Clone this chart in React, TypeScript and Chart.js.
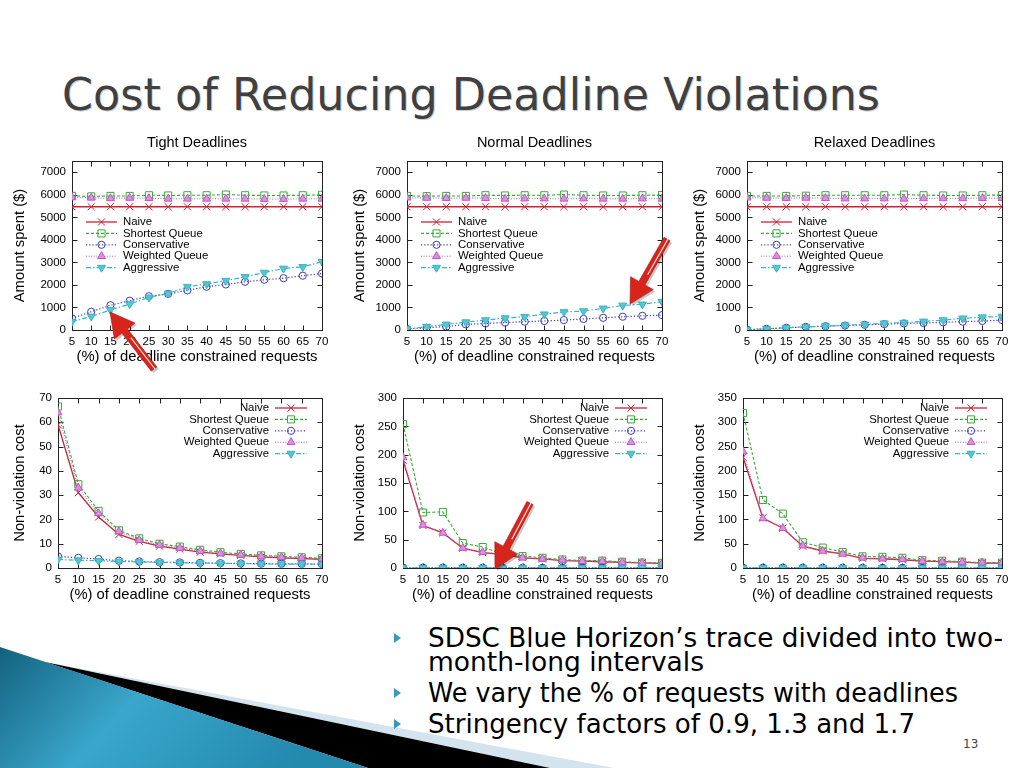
import React, { useEffect, useRef } from 'react';
import { Chart, registerables } from 'chart.js';
import { drawPoint } from 'chart.js/helpers';

Chart.register(...registerables);
Chart.defaults.font.family = '"Liberation Sans", Arial, sans-serif';
Chart.defaults.color = '#000';

// ---------------- data ----------------
const percentLabels = [5, 10, 15, 20, 25, 30, 35, 40, 45, 50, 55, 60, 65, 70];
const seriesNames = ['Naive', 'Shortest Queue', 'Conservative', 'Weighted Queue', 'Aggressive'];
const panelTitles = ['Tight Deadlines', 'Normal Deadlines', 'Relaxed Deadlines'];
const spentTicks = [0, 1000, 2000, 3000, 4000, 5000, 6000, 7000];
const tightCostTicks = [0, 10, 20, 30, 40, 50, 60, 70];
const normalCostTicks = [0, 50, 100, 150, 200, 250, 300];
const relaxedCostTicks = [0, 50, 100, 150, 200, 250, 300, 350];

// Amount spent ($) - Tight
const tightSpentNaive = [5470, 5470, 5470, 5470, 5470, 5470, 5470, 5470, 5470, 5470, 5470, 5470, 5470, 5470];
const tightSpentShortest = [5950, 5930, 5950, 5950, 5980, 5970, 5980, 5980, 6010, 5980, 5970, 5970, 5980, 6000];
const tightSpentConservative = [520, 810, 1100, 1300, 1500, 1600, 1760, 1920, 2020, 2140, 2230, 2300, 2410, 2510];
const tightSpentWeighted = [5880, 5870, 5840, 5860, 5850, 5820, 5820, 5820, 5820, 5820, 5810, 5810, 5820, 5820];
const tightSpentAggressive = [370, 600, 890, 1150, 1450, 1620, 1920, 2040, 2190, 2360, 2550, 2730, 2800, 3030];

// Amount spent ($) - Normal
const normalSpentNaive = [5470, 5470, 5470, 5470, 5470, 5470, 5470, 5470, 5470, 5470, 5470, 5470, 5470, 5470];
const normalSpentShortest = [5950, 5940, 5950, 5950, 5980, 5970, 5980, 5980, 6010, 5980, 5970, 5970, 5980, 5990];
const normalSpentConservative = [50, 100, 150, 250, 290, 330, 370, 400, 440, 490, 540, 590, 630, 660];
const normalSpentWeighted = [5870, 5860, 5850, 5860, 5850, 5820, 5830, 5830, 5820, 5830, 5820, 5820, 5830, 5820];
const normalSpentAggressive = [40, 150, 250, 350, 440, 530, 590, 700, 800, 840, 960, 1090, 1140, 1260];

// Amount spent ($) - Relaxed
const relaxedSpentNaive = [5470, 5470, 5470, 5470, 5470, 5470, 5470, 5470, 5470, 5470, 5470, 5470, 5470, 5470];
const relaxedSpentShortest = [5950, 5950, 5950, 5960, 5980, 5980, 5980, 5980, 6010, 5980, 5970, 5970, 5980, 5990];
const relaxedSpentConservative = [20, 50, 100, 140, 170, 200, 230, 260, 290, 310, 340, 370, 400, 440];
const relaxedSpentWeighted = [5870, 5860, 5850, 5860, 5850, 5830, 5830, 5830, 5820, 5840, 5840, 5840, 5850, 5850];
const relaxedSpentAggressive = [20, 50, 100, 140, 170, 210, 250, 300, 330, 380, 440, 520, 570, 600];

// Non-violation cost - Tight
const tightCostNaive = [59, 31, 21, 13.8, 11, 9, 7.8, 6.5, 5.8, 5.2, 4.6, 4.2, 3.9, 3.6];
const tightCostShortest = [66.5, 34.5, 23.5, 15.5, 12.2, 10, 8.8, 7.5, 6.5, 5.8, 5.2, 4.8, 4.4, 4.0];
const tightCostConservative = [4.8, 4.2, 3.7, 3.0, 2.7, 2.4, 2.3, 2.1, 2.0, 1.9, 1.8, 1.7, 1.7, 1.6];
const tightCostWeighted = [64, 33, 22.5, 15, 11.5, 9.5, 8.2, 7, 6, 5.4, 4.8, 4.4, 4.1, 3.8];
const tightCostAggressive = [3.5, 3.2, 3.0, 2.7, 2.5, 2.3, 2.2, 2.0, 1.9, 1.8, 1.7, 1.6, 1.6, 1.5];

// Non-violation cost - Normal
const normalCostNaive = [190, 75, 62, 35, 27, 24, 18, 16, 13, 12, 11, 10, 9, 8];
const normalCostShortest = [254, 98, 99, 44, 37, 24, 21, 18, 15, 13, 13, 11, 9.5, 9];
const normalCostConservative = [0.8, 0.7, 0.7, 0.6, 0.6, 0.6, 0.5, 0.5, 0.5, 0.5, 0.5, 0.5, 0.5, 0.5];
const normalCostWeighted = [195, 76, 62, 35, 28, 24, 18, 16, 14, 12, 12, 10, 9, 8];
const normalCostAggressive = [0.4, 0.4, 0.4, 0.3, 0.3, 0.3, 0.3, 0.3, 0.3, 0.3, 0.3, 0.3, 0.3, 0.3];

// Non-violation cost - Relaxed
const relaxedCostNaive = [228, 103, 82, 45, 35, 29, 20, 19, 17, 14, 13, 12, 10, 10];
const relaxedCostShortest = [319, 140, 112, 53, 42, 33, 24, 23, 21, 16, 15, 13, 11, 11];
const relaxedCostConservative = [0.8, 0.7, 0.7, 0.6, 0.6, 0.6, 0.5, 0.5, 0.5, 0.5, 0.5, 0.5, 0.5, 0.5];
const relaxedCostWeighted = [240, 102, 82, 46, 35, 29, 21, 19, 18, 14, 13, 12, 11, 11];
const relaxedCostAggressive = [0.4, 0.4, 0.4, 0.3, 0.3, 0.3, 0.3, 0.3, 0.3, 0.3, 0.3, 0.3, 0.3, 0.3];

// ---------------- styles ----------------
const seriesStyles = [
  { color: '#cc2233', dash: [] as number[], pointStyle: 'crossRot', radius: 5, fill: 'rgba(0,0,0,0)', rotation: 0, width: 1.3 },
  { color: '#3aa83a', dash: [3, 2], pointStyle: 'rect', radius: 5, fill: 'rgba(255,255,255,0)', rotation: 0, width: 1.1 },
  { color: '#3c3cb6', dash: [1.2, 2], pointStyle: 'circle', radius: 3.6, fill: 'rgba(255,255,255,0)', rotation: 0, width: 1.2 },
  { color: '#c455c8', dash: [1, 1.6], pointStyle: 'triangle', radius: 4.6, fill: '#d990e0', rotation: 0, width: 1.0 },
  { color: '#38b4c4', dash: [5, 2, 1.5, 2], pointStyle: 'triangle', radius: 4.6, fill: '#55c6d2', rotation: 180, width: 1.2 },
];

const xTitle = '(%) of deadline constrained requests';
const TICK_FONT = 11.5;
const AXIS_TITLE_FONT = 14.8;

type Box = { left: number; top: number; width: number; height: number };
type Plot = { left: number; top: number; right: number; bottom: number };

const topCanvas = (left: number, width: number): Box => ({ left, top: 130, width, height: 240 });
const botCanvas = (left: number, width: number): Box => ({ left, top: 385, width, height: 225 });

const panels = [
  { series: [tightSpentNaive, tightSpentShortest, tightSpentConservative, tightSpentWeighted, tightSpentAggressive], yTicks: spentTicks, yMax: 7500, yTitle: 'Amount spent ($)', title: panelTitles[0], legend: 'left', canvas: topCanvas(0, 340), plot: { left: 72, top: 161, right: 322, bottom: 330 }, xTitleY: 357 },
  { series: [normalSpentNaive, normalSpentShortest, normalSpentConservative, normalSpentWeighted, normalSpentAggressive], yTicks: spentTicks, yMax: 7500, yTitle: 'Amount spent ($)', title: panelTitles[1], legend: 'left', canvas: topCanvas(340, 340), plot: { left: 407, top: 161, right: 662, bottom: 330 }, xTitleY: 357 },
  { series: [relaxedSpentNaive, relaxedSpentShortest, relaxedSpentConservative, relaxedSpentWeighted, relaxedSpentAggressive], yTicks: spentTicks, yMax: 7500, yTitle: 'Amount spent ($)', title: panelTitles[2], legend: 'left', canvas: topCanvas(680, 344), plot: { left: 747, top: 161, right: 1002, bottom: 330 }, xTitleY: 357 },
  { series: [tightCostNaive, tightCostShortest, tightCostConservative, tightCostWeighted, tightCostAggressive], yTicks: tightCostTicks, yMax: 70, yTitle: 'Non-violation cost', title: '', legend: 'right', canvas: botCanvas(0, 340), plot: { left: 58, top: 398, right: 322, bottom: 568 }, xTitleY: 595 },
  { series: [normalCostNaive, normalCostShortest, normalCostConservative, normalCostWeighted, normalCostAggressive], yTicks: normalCostTicks, yMax: 300, yTitle: 'Non-violation cost', title: '', legend: 'right', canvas: botCanvas(340, 340), plot: { left: 403, top: 398, right: 662, bottom: 568 }, xTitleY: 595 },
  { series: [relaxedCostNaive, relaxedCostShortest, relaxedCostConservative, relaxedCostWeighted, relaxedCostAggressive], yTicks: relaxedCostTicks, yMax: 350, yTitle: 'Non-violation cost', title: '', legend: 'right', canvas: botCanvas(680, 344), plot: { left: 743, top: 398, right: 1002, bottom: 568 }, xTitleY: 595 },
];

// ---------------- plugins ----------------
const framePlugin = {
  id: 'gnuFrame',
  beforeDatasetsDraw(chart: any) {
    const { ctx, chartArea: a, scales } = chart;
    ctx.save();
    ctx.strokeStyle = '#222';
    ctx.lineWidth = 1;
    const l = Math.round(a.left) + 0.5, t = Math.round(a.top) + 0.5;
    const r = Math.round(a.right) + 0.5, b = Math.round(a.bottom) + 0.5;
    ctx.strokeRect(l, t, r - l, b - t);
    const tl = 5;
    ctx.beginPath();
    scales.x.ticks.forEach((tk: any) => {
      const px = Math.round(scales.x.getPixelForValue(tk.value)) + 0.5;
      ctx.moveTo(px, b); ctx.lineTo(px, b - tl);
      ctx.moveTo(px, t); ctx.lineTo(px, t + tl);
    });
    scales.y.ticks.forEach((tk: any) => {
      const py = Math.round(scales.y.getPixelForValue(tk.value)) + 0.5;
      ctx.moveTo(l, py); ctx.lineTo(l + tl, py);
      ctx.moveTo(r, py); ctx.lineTo(r - tl, py);
    });
    ctx.stroke();
    ctx.restore();
  },
};

const legendPlugin = {
  id: 'gnuLegend',
  afterDatasetsDraw(chart: any, _args: any, opts: any) {
    const { ctx, chartArea: a } = chart;
    const left = opts.side === 'left';
    ctx.save();
    ctx.font = '11.4px "Liberation Sans", Arial, sans-serif';
    ctx.textBaseline = 'middle';
    chart.data.datasets.forEach((ds: any, i: number) => {
      const y = a.top + (left ? 61 : 10) + i * 11.4;
      const x0 = left ? a.left + 14 : a.right - 47;
      const x1 = left ? a.left + 45 : a.right - 15;
      const tx = left ? a.left + 51 : a.right - 53;
      ctx.strokeStyle = ds.borderColor;
      ctx.lineWidth = ds.borderWidth;
      ctx.setLineDash(ds.borderDash);
      ctx.beginPath();
      ctx.moveTo(x0, y); ctx.lineTo(x1, y);
      ctx.stroke();
      ctx.setLineDash([]);
      ctx.fillStyle = ds.pointBackgroundColor;
      ctx.strokeStyle = ds.pointBorderColor;
      ctx.lineWidth = 1;
      drawPoint(ctx, { pointStyle: ds.pointStyle, radius: ds.pointRadius, rotation: ds.pointRotation || 0, borderWidth: 1 } as any, (x0 + x1) / 2, y);
      ctx.fillStyle = '#000';
      ctx.textAlign = left ? 'left' : 'right';
      ctx.fillText(ds.label, tx, y);
    });
    ctx.restore();
  },
};

const titlePlugin = {
  id: 'gnuTitle',
  afterDraw(chart: any, _args: any, opts: any) {
    if (!opts.text) return;
    const { ctx, chartArea: a } = chart;
    ctx.save();
    ctx.font = '14.5px "Liberation Sans", Arial, sans-serif';
    ctx.fillStyle = '#000';
    ctx.textAlign = 'center';
    ctx.textBaseline = 'middle';
    ctx.fillText(opts.text, (a.left + a.right) / 2, a.top - 18);
    ctx.restore();
  },
};

function Panel({ spec }: { spec: (typeof panels)[number] }) {
  const ref = useRef<HTMLCanvasElement>(null);
  useEffect(() => {
    const c: Box = spec.canvas;
    const p: Plot = spec.plot;
    const yW = p.left - c.left;
    const xH = c.top + c.height - p.bottom;
    const halfLine = (AXIS_TITLE_FONT * 1.2) / 2;
    const xTitlePadBottom = c.top + c.height - spec.xTitleY - halfLine;
    const chart = new Chart(ref.current as HTMLCanvasElement, {
      type: 'line',
      data: {
        datasets: spec.series.map((vals, i) => {
          const st = seriesStyles[i];
          return {
            label: seriesNames[i],
            data: vals.map((v, j) => ({ x: percentLabels[j], y: v })),
            borderColor: st.color,
            borderWidth: st.width,
            borderDash: st.dash,
            pointStyle: st.pointStyle as any,
            pointRadius: st.radius,
            pointRotation: st.rotation,
            pointBackgroundColor: st.fill,
            pointBorderColor: st.color,
            pointBorderWidth: 1,
            fill: false,
            tension: 0,
            order: 5 - i,
          };
        }),
      },
      options: {
        animation: false,
        responsive: false,
        devicePixelRatio: 1,
        events: [],
        layout: { padding: { left: 0, top: p.top - c.top, right: c.left + c.width - p.right, bottom: 0 } },
        plugins: {
          legend: { display: false },
          tooltip: { enabled: false },
          gnuLegend: { side: spec.legend },
          gnuTitle: { text: spec.title },
        } as any,
        scales: {
          x: {
            type: 'linear',
            min: 5,
            max: 70,
            afterBuildTicks: (s: any) => { s.ticks = percentLabels.map((v) => ({ value: v })); },
            afterFit: (s: any) => { s.height = xH; },
            grid: { display: false, drawTicks: false },
            border: { display: false },
            ticks: { autoSkip: false, maxRotation: 0, padding: 5, color: '#000', font: { size: TICK_FONT }, callback: (v: any) => String(v) },
            title: { display: true, text: xTitle, color: '#000', font: { size: AXIS_TITLE_FONT }, padding: { top: 0, bottom: xTitlePadBottom } },
          },
          y: {
            type: 'linear',
            min: 0,
            max: spec.yMax,
            afterBuildTicks: (s: any) => { s.ticks = spec.yTicks.map((v) => ({ value: v })); },
            afterFit: (s: any) => { s.width = yW; },
            grid: { display: false, drawTicks: false },
            border: { display: false },
            ticks: { padding: 6, color: '#000', font: { size: TICK_FONT }, callback: (v: any) => String(v) },
            title: { display: true, text: spec.yTitle, color: '#000', font: { size: AXIS_TITLE_FONT }, padding: { top: 20 - halfLine, bottom: 0 } },
          },
        },
      },
      plugins: [framePlugin, legendPlugin, titlePlugin],
    } as any);
    return () => chart.destroy();
  }, [spec]);
  const c = spec.canvas;
  return (
    <canvas
      ref={ref}
      width={c.width}
      height={c.height}
      style={{ position: 'absolute', left: c.left, top: c.top, width: c.width, height: c.height }}
    />
  );
}

// ---------------- slide decoration ----------------
const bulletLines = [
  { text: 'SDSC Blue Horizon\u2019s trace divided into two-', y: 647, len: 575, bullet: true },
  { text: 'month-long intervals', y: 671, len: 276, bullet: false },
  { text: 'We vary the % of requests with deadlines', y: 702, len: 530, bullet: true },
  { text: 'Stringency factors of 0.9, 1.3 and 1.7', y: 733, len: 487, bullet: true },
];

const arrowSpecs = [
  { tail: [154, 369], tip: [110, 312] },
  { tail: [667, 239], tip: [630, 304] },
  { tail: [530, 503], tip: [495, 569] },
];

function arrowPoints(tail: number[], tip: number[], sw: number, hw: number, hl: number) {
  const dx = tip[0] - tail[0], dy = tip[1] - tail[1];
  const len = Math.hypot(dx, dy);
  const ux = dx / len, uy = dy / len;
  const nx = -uy, ny = ux;
  const bx = tip[0] - ux * hl, by = tip[1] - uy * hl;
  const pts = [
    [tail[0] + nx * sw / 2, tail[1] + ny * sw / 2],
    [bx + nx * sw / 2, by + ny * sw / 2],
    [bx + nx * hw / 2, by + ny * hw / 2],
    [tip[0], tip[1]],
    [bx - nx * hw / 2, by - ny * hw / 2],
    [bx - nx * sw / 2, by - ny * sw / 2],
    [tail[0] - nx * sw / 2, tail[1] - ny * sw / 2],
  ];
  return pts.map((q) => q.map((v) => v.toFixed(1)).join(',')).join(' ');
}

export default function App() {
  return (
    <div style={{ position: 'fixed', left: 0, top: 0, width: 1024, height: 768, background: '#fff', overflow: 'hidden' }}>
      <svg width={1024} height={768} style={{ position: 'absolute', left: 0, top: 0 }}>
        <defs>
          <linearGradient id="teal" x1="0" y1="0" x2="1" y2="0.3">
            <stop offset="0" stopColor="#13627e" />
            <stop offset="0.45" stopColor="#3aa6cc" />
            <stop offset="1" stopColor="#2389ad" />
          </linearGradient>
        </defs>
        <polygon points="45,662 614,768 550,768" fill="#d3e4ee" />
        <polygon points="45,662 550,768 368,768" fill="#000" />
        <polygon points="0,647 368,768 0,768" fill="url(#teal)" />
        <text x={63} y={111} fontFamily='"DejaVu Sans", sans-serif' fontSize={45} fill="#cfcfcf" textLength={818} lengthAdjust="spacingAndGlyphs">
          Cost of Reducing Deadline Violations
        </text>
        <text x={62} y={110} fontFamily='"DejaVu Sans", sans-serif' fontSize={45} fill="#404040" textLength={818} lengthAdjust="spacingAndGlyphs">
          Cost of Reducing Deadline Violations
        </text>
        {bulletLines.map((b, i) => (
          <g key={i}>
            {b.bullet && <polygon points={`394,${b.y - 14} 401,${b.y - 9} 394,${b.y - 4}`} fill="#3a98bf" />}
            <text x={428} y={b.y} fontFamily='"DejaVu Sans", sans-serif' fontSize={26} fill="#000" textLength={b.len} lengthAdjust="spacingAndGlyphs">
              {b.text}
            </text>
          </g>
        ))}
        <text x={963} y={748} fontFamily='"DejaVu Sans", sans-serif' fontSize={12} fill="#444">13</text>
      </svg>
      {panels.map((p, i) => (
        <Panel key={i} spec={p} />
      ))}
      <svg width={1024} height={768} style={{ position: 'absolute', left: 0, top: 0, pointerEvents: 'none' }}>
        {arrowSpecs.map((a, i) => (
          <g key={i}>
            <polygon points={arrowPoints([a.tail[0] + 2, a.tail[1] + 2], [a.tip[0] + 2, a.tip[1] + 2], 7, 26, 24)} fill="rgba(0,0,0,0.22)" />
            <polygon points={arrowPoints(a.tail, a.tip, 7, 26, 24)} fill="#d8251c" stroke="#a5100c" strokeWidth={0.6} />
            <line x1={a.tail[0] + 1} y1={a.tail[1]} x2={a.tip[0] + (a.tail[0] - a.tip[0]) * 0.45 + 1} y2={a.tip[1] + (a.tail[1] - a.tip[1]) * 0.45} stroke="#fff" strokeWidth={1.2} opacity={0.85} />
          </g>
        ))}
      </svg>
    </div>
  );
}
